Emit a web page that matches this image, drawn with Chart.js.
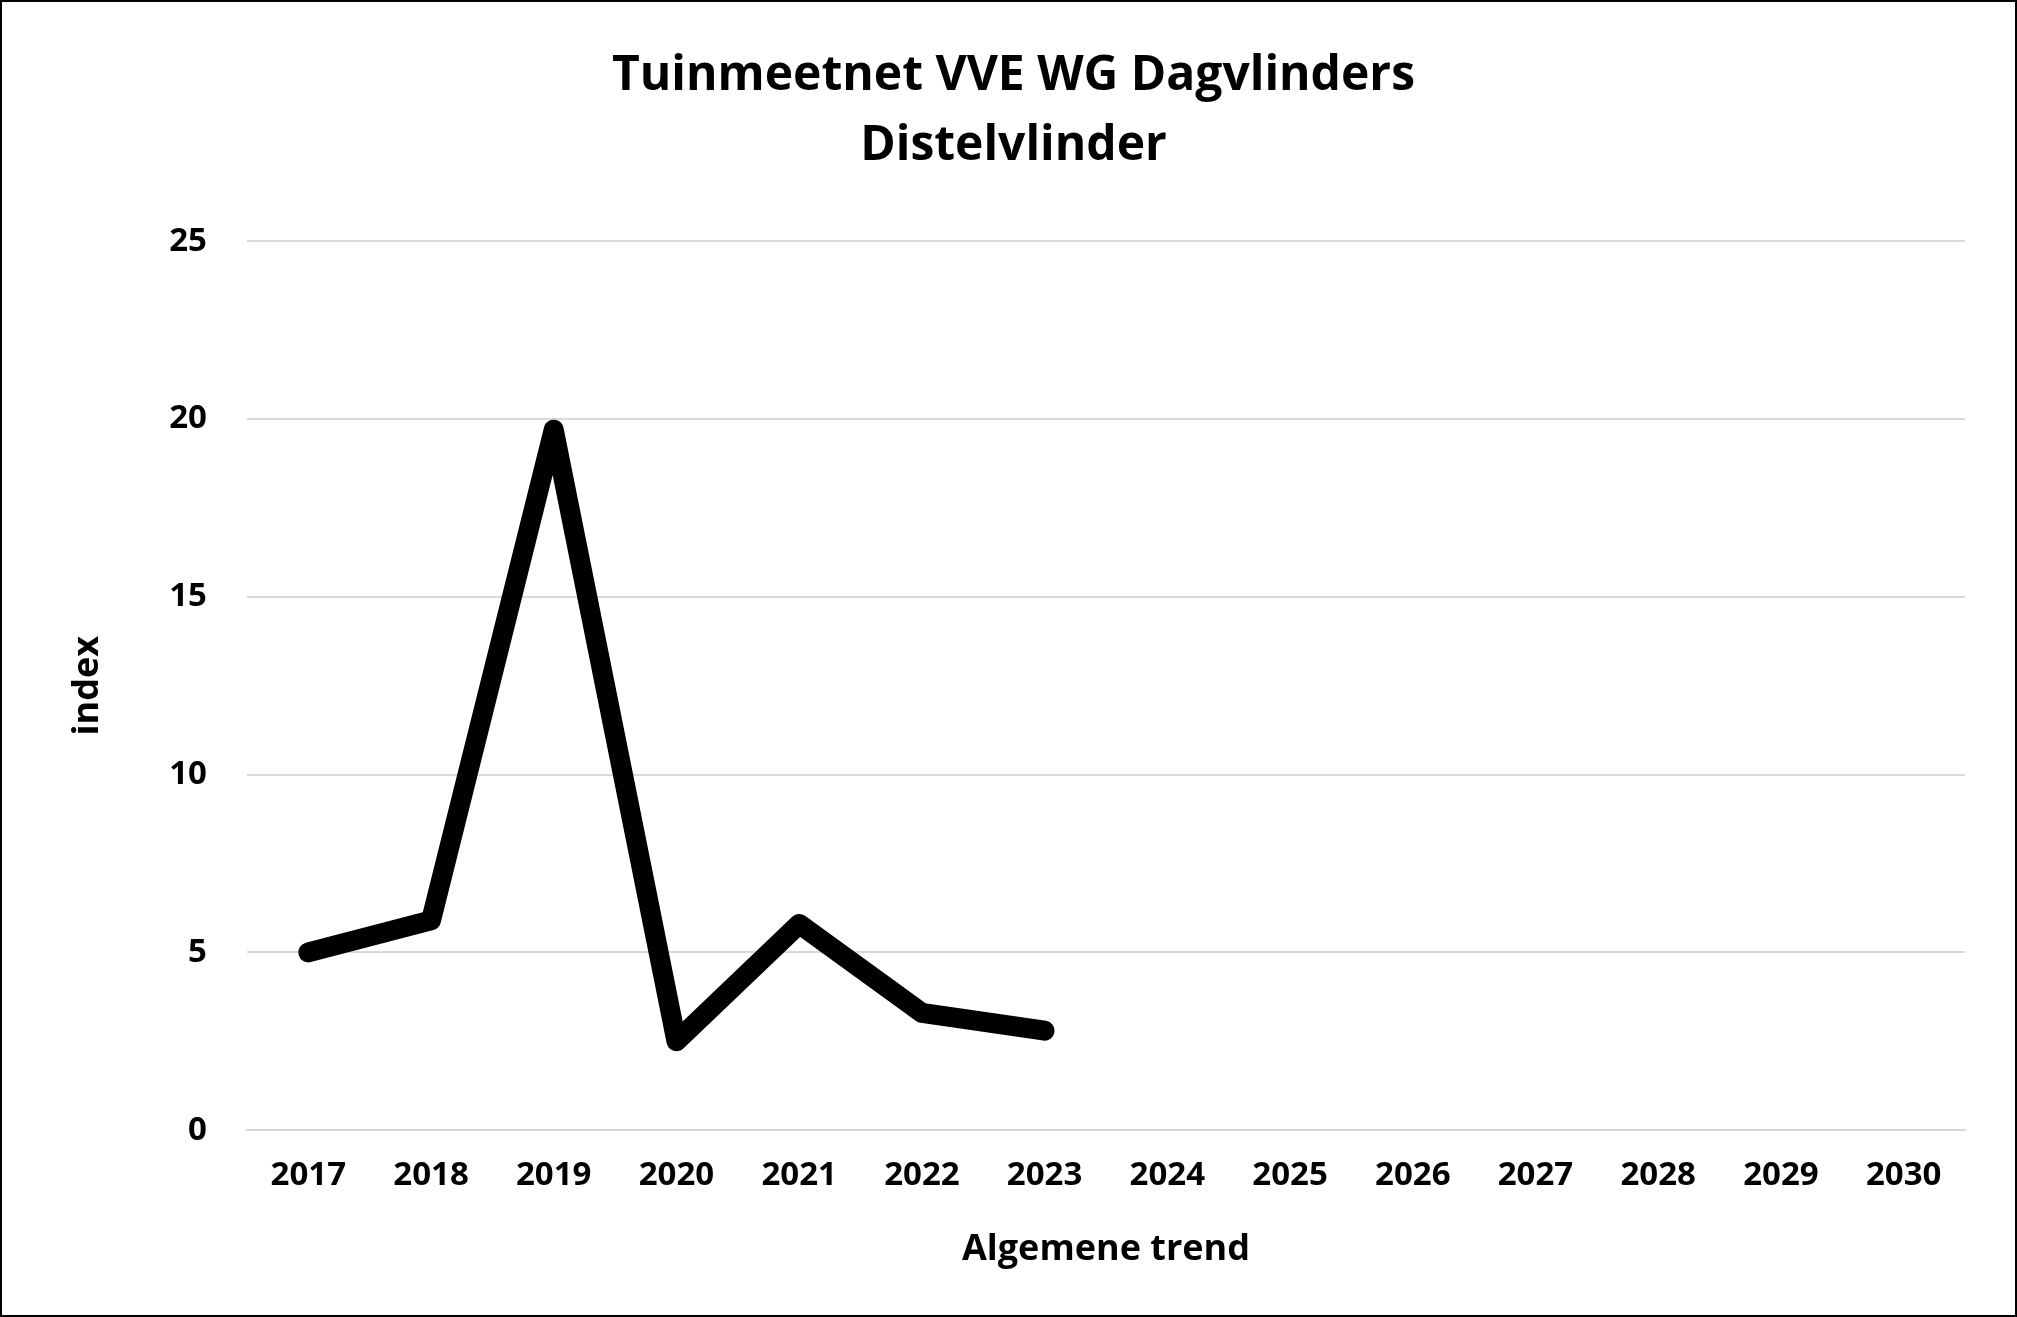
<!DOCTYPE html>
<html><head><meta charset="utf-8">
<script src="https://cdn.jsdelivr.net/npm/chart.js@4"></script>
<style>html,body{margin:0;padding:0;background:#fff}#w{width:2013px;height:1313px;border:2px solid #000;position:relative}</style>
</head><body><div id="w"><canvas id="c"></canvas></div>
<script>
const years=['2017','2018','2019','2020','2021','2022','2023','2024','2025','2026','2027','2028','2029','2030'];
const indexValues=[5.0,5.9,19.7,2.5,5.8,3.3,2.8,null,null,null,null,null,null,null];
const yTicks=[0,5,10,15,20,25];
const F='"Open Sans", "Liberation Sans", sans-serif';
new Chart(document.getElementById('c'),{type:'line',
data:{labels:years,datasets:[{data:indexValues,borderColor:'#000',borderWidth:20,pointRadius:0,borderCapStyle:'round',borderJoinStyle:'round',tension:0,spanGaps:false}]},
options:{responsive:true,maintainAspectRatio:false,animation:false,
layout:{padding:{left:60,right:50,top:40,bottom:40}},
plugins:{legend:{display:false},tooltip:{enabled:false},
title:{display:true,text:['Tuinmeetnet VVE WG Dagvlinders','Distelvlinder'],color:'#000',font:{family:F,size:48,weight:'bold',lineHeight:1.45},padding:{bottom:60}}},
scales:{
x:{offset:true,grid:{display:false},border:{color:'#d9d9d9',width:2},ticks:{color:'#000',font:{family:F,size:33,weight:'bold'},padding:18},
title:{display:true,text:'Algemene trend',color:'#000',font:{family:F,size:36,weight:'bold'},padding:{top:14}}},
y:{min:0,max:25,afterBuildTicks:a=>{a.ticks=yTicks.map(v=>({value:v}))},grid:{color:'#d9d9d9',lineWidth:2,drawTicks:false},border:{display:false},
ticks:{color:'#000',font:{family:F,size:33,weight:'bold'},padding:40},
title:{display:true,text:'index',color:'#000',font:{family:F,size:36,weight:'bold'},padding:{bottom:20}}}}}});
</script></body></html>
